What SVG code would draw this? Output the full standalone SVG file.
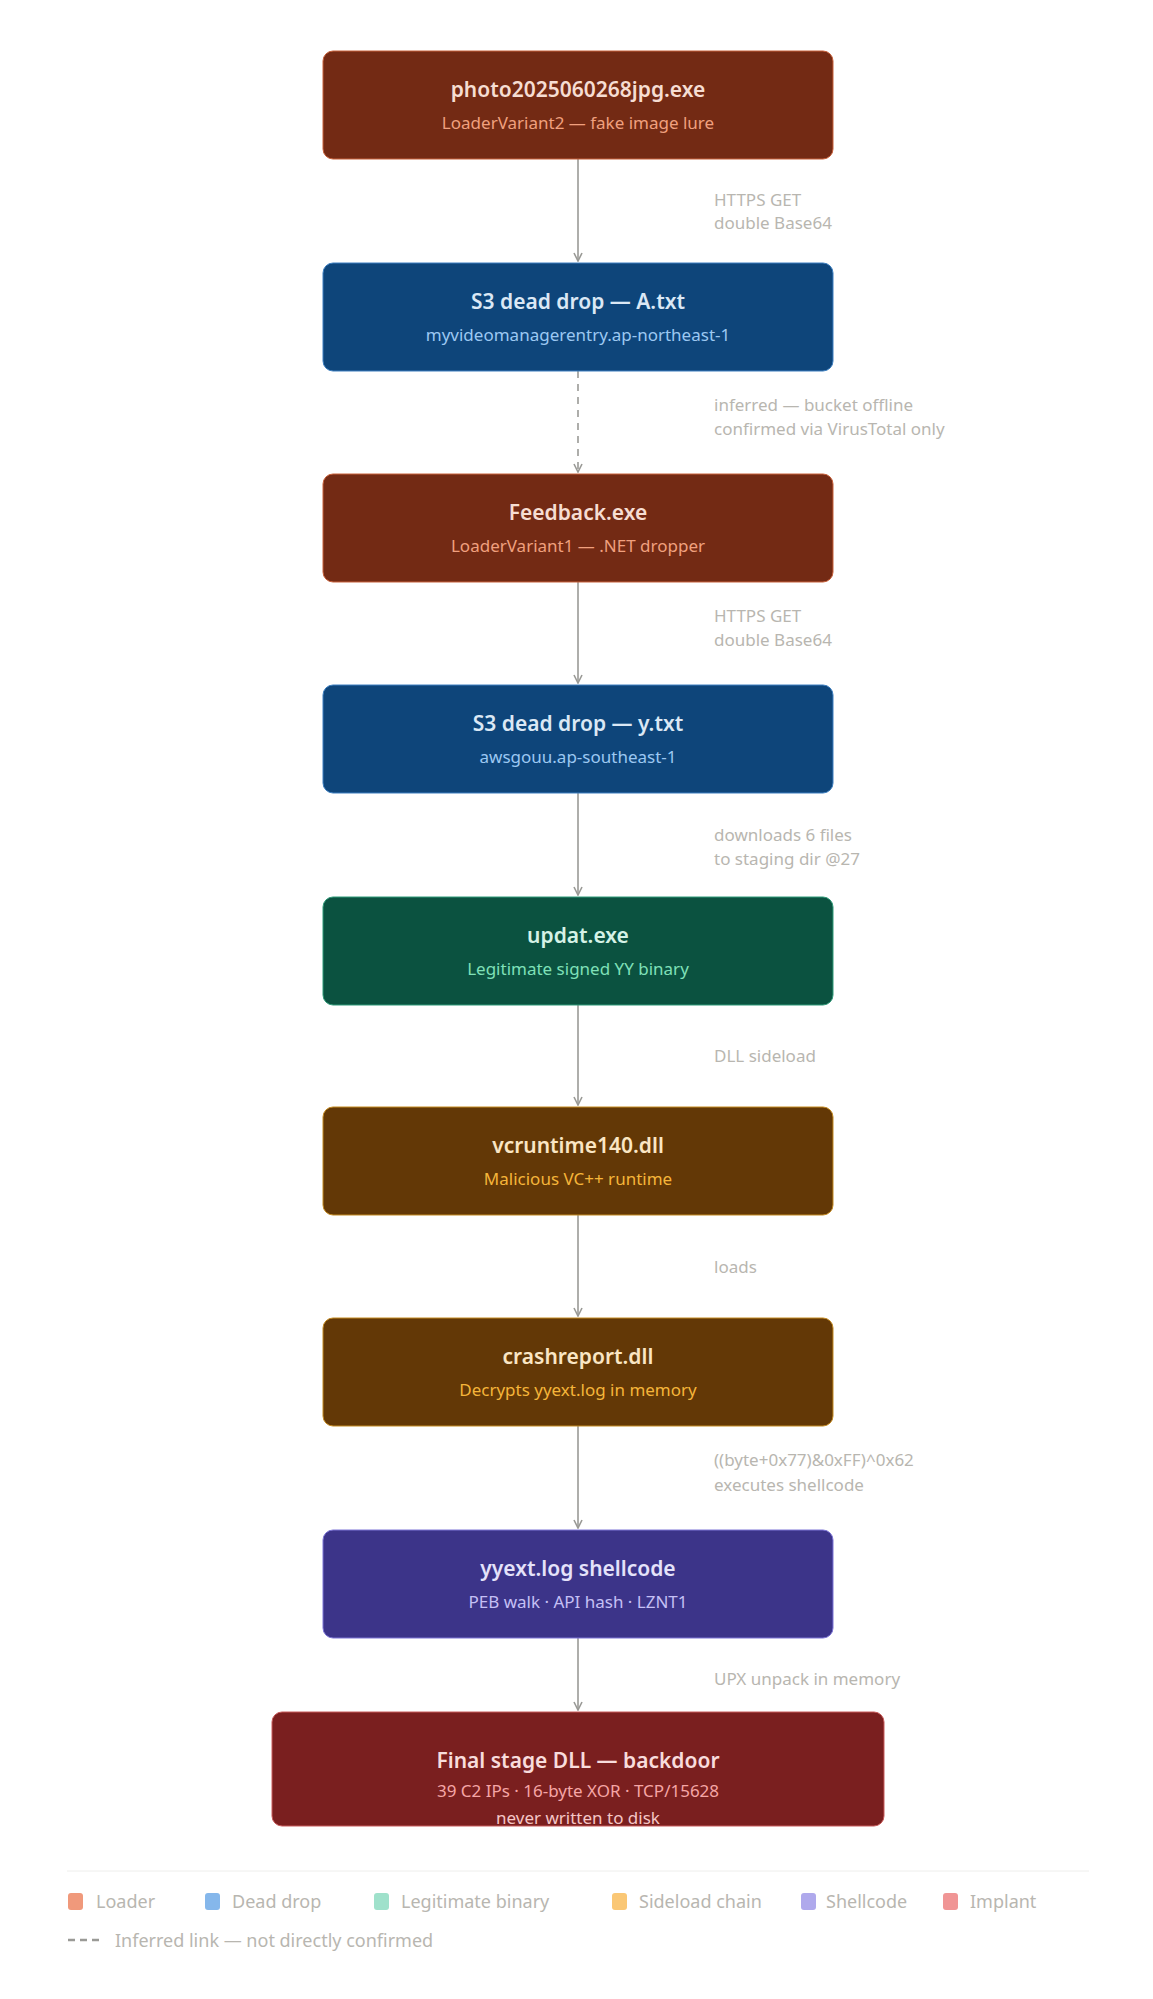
<svg xmlns="http://www.w3.org/2000/svg" width="1153" height="1999" viewBox="0 0 1153 1999">
<defs>
<marker id="ah" viewBox="0 0 10 10" refX="9" refY="5" markerWidth="10" markerHeight="10" markerUnits="userSpaceOnUse" orient="auto"><path d="M1 1L9 5L1 9" fill="none" stroke="#9a9a96" stroke-width="1.6"/></marker>
</defs>
<style>
text{font-family:"Noto Sans","Open Sans",sans-serif;text-anchor:middle}
.t{font-size:21px;font-weight:600}
.s{font-size:17px}
.l{font-size:17px;fill:#b8b6b0;text-anchor:start}
.c{stroke:#9a9a96;stroke-width:1.6;fill:none;marker-end:url(#ah)}
.lg{font-size:18px;fill:#b8b6b0;text-anchor:start}
</style>
<rect width="1153" height="1999" fill="#ffffff"/>
<g id="connectors">
<line class="c" x1="578" y1="159" x2="578" y2="261"/>
<line class="c" x1="578" y1="371" x2="578" y2="472" stroke-dasharray="7 6"/>
<line class="c" x1="578" y1="582" x2="578" y2="683"/>
<line class="c" x1="578" y1="793" x2="578" y2="895"/>
<line class="c" x1="578" y1="1005" x2="578" y2="1105"/>
<line class="c" x1="578" y1="1215" x2="578" y2="1316"/>
<line class="c" x1="578" y1="1426" x2="578" y2="1528"/>
<line class="c" x1="578" y1="1638" x2="578" y2="1710"/>
<text class="l" x="714" y="206">HTTPS GET</text><text class="l" x="714" y="229">double Base64</text>
<text class="l" x="714" y="411">inferred — bucket offline</text><text class="l" x="714" y="435">confirmed via VirusTotal only</text>
<text class="l" x="714" y="622">HTTPS GET</text><text class="l" x="714" y="646">double Base64</text>
<text class="l" x="714" y="841">downloads 6 files</text><text class="l" x="714" y="865">to staging dir @27</text>
<text class="l" x="714" y="1062">DLL sideload</text>
<text class="l" x="714" y="1273">loads</text>
<text class="l" x="714" y="1466">((byte+0x77)&amp;0xFF)^0x62</text><text class="l" x="714" y="1491">executes shellcode</text>
<text class="l" x="714" y="1685">UPX unpack in memory</text>
</g>
<g id="n1"><rect x="323" y="51" width="510" height="108" rx="10" fill="#732a14" stroke="#c8603a"/><text class="t" x="578" y="97" fill="#f6ddd2">photo2025060268jpg.exe</text><text class="s" x="578" y="129" fill="#f0a07e">LoaderVariant2 — fake image lure</text></g>
<g id="n2"><rect x="323" y="263" width="510" height="108" rx="10" fill="#0e457a" stroke="#3d7fc0"/><text class="t" x="578" y="309" fill="#dbe8f5">S3 dead drop — A.txt</text><text class="s" x="578" y="341" fill="#9cc8f2">myvideomanagerentry.ap-northeast-1</text></g>
<g id="n3"><rect x="323" y="474" width="510" height="108" rx="10" fill="#732a14" stroke="#c8603a"/><text class="t" x="578" y="520" fill="#f6ddd2">Feedback.exe</text><text class="s" x="578" y="552" fill="#f0a07e">LoaderVariant1 — .NET dropper</text></g>
<g id="n4"><rect x="323" y="685" width="510" height="108" rx="10" fill="#0e457a" stroke="#3d7fc0"/><text class="t" x="578" y="731" fill="#dbe8f5">S3 dead drop — y.txt</text><text class="s" x="578" y="763" fill="#9cc8f2">awsgouu.ap-southeast-1</text></g>
<g id="n5"><rect x="323" y="897" width="510" height="108" rx="10" fill="#0b5240" stroke="#2f9a78"/><text class="t" x="578" y="943" fill="#d5f2e6">updat.exe</text><text class="s" x="578" y="975" fill="#7fe0b8">Legitimate signed YY binary</text></g>
<g id="n6"><rect x="323" y="1107" width="510" height="108" rx="10" fill="#633806" stroke="#c48a20"/><text class="t" x="578" y="1153" fill="#fae6c4">vcruntime140.dll</text><text class="s" x="578" y="1185" fill="#f5b53a">Malicious VC++ runtime</text></g>
<g id="n7"><rect x="323" y="1318" width="510" height="108" rx="10" fill="#633806" stroke="#c48a20"/><text class="t" x="578" y="1364" fill="#fae6c4">crashreport.dll</text><text class="s" x="578" y="1396" fill="#f5b53a">Decrypts yyext.log in memory</text></g>
<g id="n8"><rect x="323" y="1530" width="510" height="108" rx="10" fill="#3c3489" stroke="#7c74d6"/><text class="t" x="578" y="1576" fill="#e4e2fa">yyext.log shellcode</text><text class="s" x="578" y="1608" fill="#c5c0f5">PEB walk · API hash · LZNT1</text></g>
<g id="n9"><rect x="272" y="1712" width="612" height="114" rx="10" fill="#7a1f1f" stroke="#c85a5a"/><text class="t" x="578" y="1768" fill="#f8dcdc">Final stage DLL — backdoor</text><text class="s" x="578" y="1797" fill="#f5a6a6">39 C2 IPs · 16-byte XOR · TCP/15628</text><text class="s" x="578" y="1824" fill="#f5c6c6">never written to disk</text></g>
<g id="legend">
<line x1="67" y1="1871" x2="1089" y2="1871" stroke="#eeeeec"/>
<rect x="68" y="1893" width="15" height="17" rx="3" fill="#f0997b"/><text class="lg" x="96" y="1908">Loader</text>
<rect x="205" y="1893" width="15" height="17" rx="3" fill="#85b7eb"/><text class="lg" x="232" y="1908">Dead drop</text>
<rect x="374" y="1893" width="15" height="17" rx="3" fill="#9fe1cb"/><text class="lg" x="401" y="1908">Legitimate binary</text>
<rect x="612" y="1893" width="15" height="17" rx="3" fill="#fac775"/><text class="lg" x="639" y="1908">Sideload chain</text>
<rect x="801" y="1893" width="15" height="17" rx="3" fill="#afa9ec"/><text class="lg" x="826" y="1908">Shellcode</text>
<rect x="943" y="1893" width="15" height="17" rx="3" fill="#f09595"/><text class="lg" x="970" y="1908">Implant</text>
<line x1="68" y1="1940" x2="102" y2="1940" stroke="#9a9a96" stroke-width="2.5" stroke-dasharray="7 5"/><text class="lg" x="115" y="1947">Inferred link — not directly confirmed</text>
</g>
</svg>
